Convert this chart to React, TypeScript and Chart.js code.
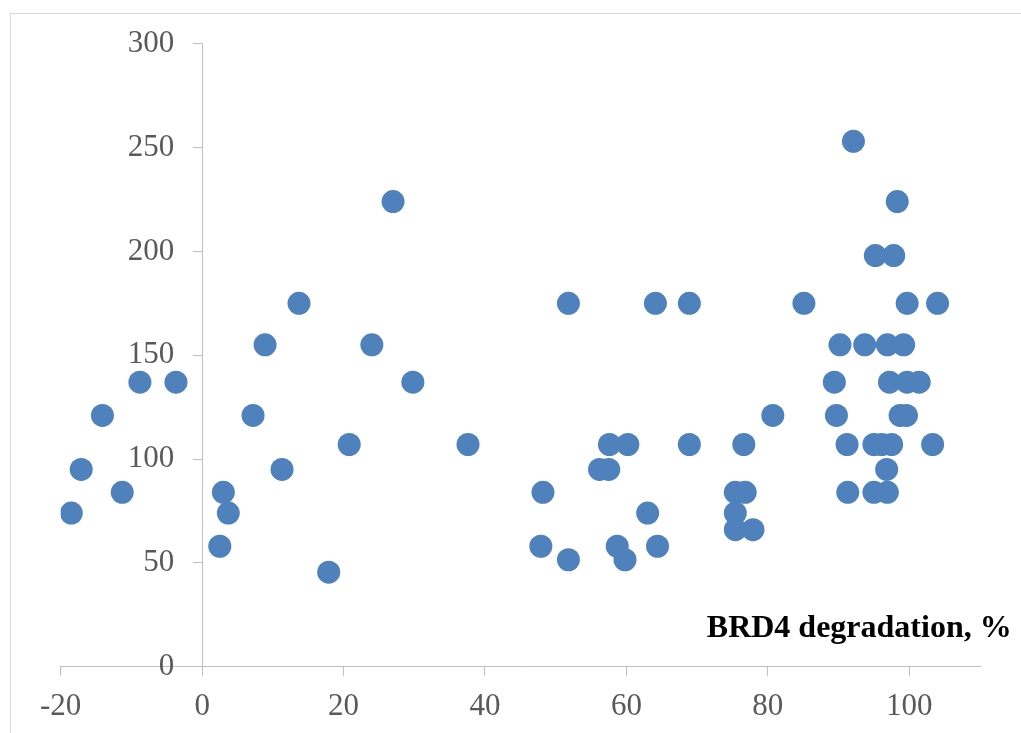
import React, { useEffect, useRef } from "react";
import { Chart, registerables, LinearScale } from "chart.js";

Chart.register(...registerables);

const degradation = [
  -18.5, -17.1, -14.1, -11.3, -8.8, -3.7, 2.5, 3.0, 3.7, 7.2, 8.9, 11.3, 13.7, 17.9,
  20.8, 24.0, 27.0, 29.8, 37.6, 47.9, 48.2, 51.8, 51.8, 56.2, 57.5, 57.6, 60.2, 58.7,
  59.8, 63.0, 64.1, 64.4, 68.9, 68.9, 75.4, 76.8, 75.4, 75.4, 77.9, 76.6, 80.7, 85.1,
  89.4, 89.7, 90.2, 91.2, 91.3, 92.1, 93.7, 95.0, 96.1, 97.5, 95.0, 96.9, 96.8, 95.2,
  97.8, 98.3, 96.9, 99.2, 97.2, 99.7, 101.4, 98.7, 99.6, 99.7, 104.0, 103.3,
];
const values = [
  74, 95, 121, 84, 137, 137, 58, 84, 74, 121, 155, 95, 175, 45.5,
  107, 155, 224, 137, 107, 58, 84, 175, 51.5, 95, 95, 107, 107, 58,
  51.5, 74, 175, 58, 175, 107, 84, 84, 74, 66, 66, 107, 121, 175,
  137, 121, 155, 107, 84, 253, 155, 107, 107, 107, 84, 84, 95, 198,
  198, 224, 155, 155, 137, 137, 137, 121, 121, 175, 175, 107,
];
const xTickValues = [-20, 0, 20, 40, 60, 80, 100];
const yTickValues = [0, 50, 100, 150, 200, 250, 300];
const axisTitle = "BRD4 degradation, %";

// Y axis sits at x = 0; its labels are shifted left of the tick marks.
const Y_LABEL_SHIFT = 28;

class ShiftedLabelScale extends (LinearScale as any) {
  static id = "shiftedLinear";
  static defaults = (LinearScale as any).defaults;
  _computeLabelItems(chartArea: any) {
    const items = super._computeLabelItems(chartArea);
    for (const it of items) {
      if (it.options && it.options.translation) {
        it.options.translation = [it.options.translation[0] - Y_LABEL_SHIFT, it.options.translation[1]];
      }
    }
    return items;
  }
}
Chart.register(ShiftedLabelScale as any);

const titlePlugin = {
  id: "axisTitleText",
  afterDraw(chart: any) {
    const ctx = chart.ctx;
    ctx.save();
    ctx.font = 'bold 32px "Liberation Serif"';
    ctx.fillStyle = "#000000";
    ctx.textAlign = "right";
    ctx.textBaseline = "alphabetic";
    ctx.fillText(axisTitle, 1000.7, 622.7);
    ctx.restore();
  },
};

export default function App() {
  const ref = useRef<HTMLCanvasElement | null>(null);
  useEffect(() => {
    if (!ref.current) return;
    const tickFont = { family: '"Liberation Serif"', size: 31 };
    const chart = new Chart(ref.current, {
      type: "scatter",
      data: {
        datasets: [
          {
            data: degradation.map((x, i) => ({ x, y: values[i] })),
            backgroundColor: "#4F81BD",
            borderWidth: 0,
            pointRadius: 11.5,
            pointHoverRadius: 11.5,
          },
        ],
      },
      plugins: [titlePlugin],
      options: {
        animation: false,
        responsive: false,
        layout: { padding: { left: 49.7, top: 29.7, right: 41, bottom: 0 } },
        plugins: { legend: { display: false }, tooltip: { enabled: false } },
        scales: {
          x: {
            type: "linear",
            position: "bottom",
            min: -20,
            max: 110,
            afterBuildTicks: (s: any) => {
              s.ticks = xTickValues.map((v) => ({ value: v }));
            },
            afterFit: (s: any) => {
              s.height = 66.3;
            },
            grid: { drawOnChartArea: false, drawTicks: true, tickLength: 9, color: "#bfbfbf", lineWidth: 1 },
            border: { display: true, color: "#bfbfbf", width: 1 },
            ticks: { autoSkip: false, maxRotation: 0, color: "#595959", font: tickFont, padding: 13 },
          },
          y: {
            type: "shiftedLinear" as any,
            position: { x: 0 } as any,
            min: 0,
            max: 300,
            afterBuildTicks: (s: any) => {
              s.ticks = yTickValues.map((v) => ({ value: v }));
            },
            grid: { drawOnChartArea: false, drawTicks: true, tickLength: 9, color: "#bfbfbf", lineWidth: 1 },
            border: { display: true, color: "#bfbfbf", width: 1 },
            ticks: { autoSkip: false, color: "#595959", font: tickFont, padding: 0 },
          },
        },
      },
    } as any);
    return () => chart.destroy();
  }, []);
  return (
    <div
      style={{
        position: "absolute",
        left: 10,
        top: 13,
        width: 1011,
        height: 720,
        boxSizing: "border-box",
        borderTop: "1px solid #d9d9d9",
        borderLeft: "1px solid #d9d9d9",
        overflow: "hidden",
      }}
    >
      <canvas ref={ref} width={1010} height={719} style={{ display: "block" }} />
    </div>
  );
}
